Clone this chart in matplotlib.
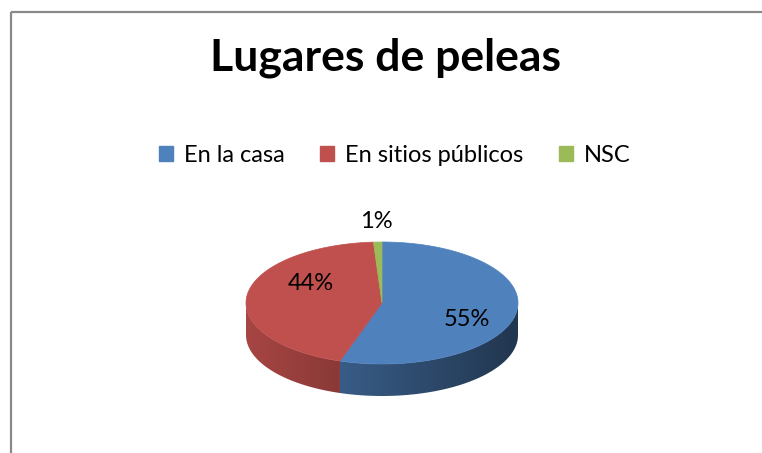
import numpy as np
import matplotlib.pyplot as plt
from matplotlib.patches import Polygon, Rectangle, Patch
import matplotlib.colors as mcolors

categories = ['En la casa', 'En sitios públicos', 'NSC']
values = [55, 44, 1]
colors = ['#4f81bd', '#c0504d', '#9bbb59']
title = 'Lugares de peleas'

plt.rcParams['font.family'] = ['Lato', 'DejaVu Sans']

fig = plt.figure(figsize=(7.62, 4.53), dpi=100)
ax = fig.add_axes([0, 0, 1, 1])
ax.set_xlim(0, 762)
ax.set_ylim(453, 0)
ax.axis('off')

# chart frame (runs off the right/bottom edge)
ax.add_patch(Rectangle((10.5, 11.5), 800, 500, fill=False,
                       edgecolor='#898989', linewidth=1.6))

ax.text(386, 58, title, ha='center', va='center', fontsize=32,
        fontweight='bold', color='black')

# 3D pie geometry (pixel units)
cx, cy = 382, 303
a, b = 136, 61
depth = 32


def pt(theta_deg, r=1.0):
    t = np.radians(theta_deg)
    return cx + a * r * np.cos(t), cy - b * r * np.sin(t)


total = float(sum(values))
starts, ends = [], []
ang = 90.0
for v in values:
    sweep = 360.0 * v / total
    starts.append(ang)
    ends.append(ang - sweep)
    ang -= sweep


def wall_image(color):
    # lighter on the left, darker towards the right
    xs = np.linspace(cx - a, cx + a, 300)
    f = 0.87 - 0.45 * (xs - (cx - a)) / (2 * a)
    rgb = np.array(mcolors.to_rgb(color))[None, :] * f[:, None]
    return np.clip(rgb, 0, 1)[None, :, :]


# side walls, only the front half (theta in -180..0)
for s, e, c in zip(starts, ends, colors):
    ranges = [(max(e, -180.0), min(s, 0.0)),
              (max(e + 360, -180.0), min(s + 360, 0.0))]
    for l, h in ranges:
        if h <= l:
            continue
        th = np.linspace(l, h, 200)
        xs, ys = pt(th)
        poly = list(zip(xs, ys)) + list(zip(xs[::-1], ys[::-1] + depth))
        patch = Polygon(poly, closed=True, facecolor='none',
                        edgecolor='none')
        ax.add_patch(patch)
        im = ax.imshow(wall_image(c), extent=(cx - a, cx + a,
                       cy + b + depth + 2, cy - 2), aspect='auto',
                       interpolation='bilinear', zorder=1)
        im.set_clip_path(patch)

ax.set_xlim(0, 762)
ax.set_ylim(453, 0)

# top faces
for s, e, c in zip(starts, ends, colors):
    th = np.linspace(s, e, max(int(abs(s - e)), 2) + 1)
    xs, ys = pt(th)
    poly = [(cx, cy)] + list(zip(xs, ys))
    ax.add_patch(Polygon(poly, closed=True, facecolor=c, edgecolor=c,
                         linewidth=0.5, zorder=2))

# percentage labels
label_pos = [(467, 320), (311, 284), (376, 221)]
for v, (lx, ly) in zip(values, label_pos):
    ax.text(lx, ly, f'{v}%', ha='center', va='center', fontsize=17,
            color='black', zorder=3)

handles = [Patch(facecolor=c, edgecolor=c) for c in colors]
ax.legend(handles, categories, loc='center', bbox_to_anchor=(0.518, 0.657),
          ncol=3, frameon=False, fontsize=17, handlelength=0.6,
          handleheight=0.6, handletextpad=0.45, columnspacing=1.5)

fig.savefig('out.png', dpi=100, facecolor='white')
